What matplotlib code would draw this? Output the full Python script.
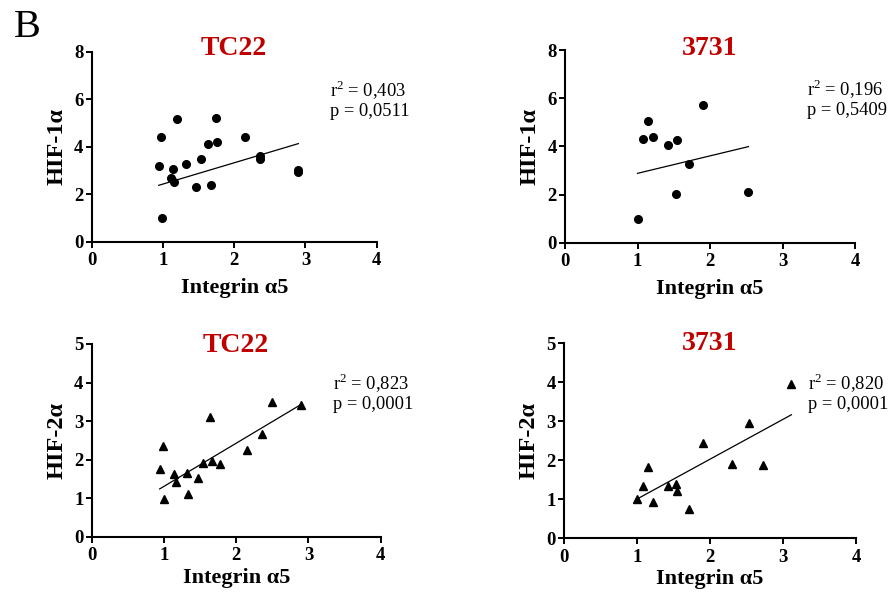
import numpy as np
import matplotlib
matplotlib.use("Agg")
import matplotlib.pyplot as plt

plt.rcParams["font.family"] = ["Liberation Serif", "DejaVu Serif"]
plt.rcParams["mathtext.fontset"] = "custom"
plt.rcParams["mathtext.rm"] = "Liberation Serif"

# HIF-1a vs integrin a5 (circles)
tc22_hif1_x = [0.94, 0.97, 0.99, 1.11, 1.14, 1.16, 1.19, 1.33, 1.47, 1.54, 1.63, 1.67,
               1.75, 1.76, 2.15, 2.36, 2.36, 2.90, 2.90]
tc22_hif1_y = [3.20, 4.42, 1.01, 2.67, 3.07, 2.50, 5.15, 3.28, 2.32, 3.49, 4.10, 2.37,
               5.19, 4.20, 4.39, 3.62, 3.48, 3.03, 2.93]
c3731_hif1_x = [1.00, 1.08, 1.15, 1.21, 1.42, 1.53, 1.55, 1.71, 1.90, 2.53]
c3731_hif1_y = [0.98, 4.32, 5.05, 4.37, 4.07, 2.03, 4.26, 3.28, 5.72, 2.10]

# HIF-2a vs integrin a5 (triangles)
tc22_hif2_x = [0.94, 0.98, 1.00, 1.14, 1.17, 1.32, 1.33, 1.47, 1.54, 1.64, 1.67, 1.77,
               2.15, 2.36, 2.49, 2.90]
tc22_hif2_y = [1.75, 2.35, 0.99, 1.63, 1.42, 1.66, 1.11, 1.52, 1.92, 3.11, 1.96, 1.88,
               2.24, 2.66, 3.49, 3.41]
c3731_hif2_x = [1.00, 1.08, 1.155, 1.215, 1.425, 1.534, 1.553, 1.717, 1.90, 2.30, 2.53,
                2.726, 3.114]
c3731_hif2_y = [1.00, 1.34, 1.84, 0.94, 1.34, 1.39, 1.21, 0.74, 2.44, 1.91, 2.96, 1.89,
                3.97]

# linear fits (slope, intercept)
fit_slopes = [0.896, 0.725, 1.12, 1.023]
fit_intercepts = [1.531, 2.155, 0.186, -0.015]

stats_text = ["r$^2$ = 0,403\np = 0,0511", "r$^2$ = 0,196\np = 0,5409",
              "r$^2$ = 0,823\np = 0,0001", "r$^2$ = 0,820\np = 0,0001"]
titles = ["TC22", "3731", "TC22", "3731"]
ylabels = ["HIF-1α", "HIF-1α", "HIF-2α", "HIF-2α"]
ymax = [8, 8, 5, 5]
ysteps = [2, 2, 1, 1]

xs = [tc22_hif1_x, c3731_hif1_x, tc22_hif2_x, c3731_hif2_x]
ys = [tc22_hif1_y, c3731_hif1_y, tc22_hif2_y, c3731_hif2_y]
markers = ["o", "o", "^", "^"]
msizes = [5.5, 5.5, 6, 6]
title_y = [0.983, 0.974, 0.958, 0.966]
xlabel_y = [-0.19, -0.19, -0.165, -0.16]

rects = [
    [0.1026, 0.5931, 0.3188, 0.3199],
    [0.632, 0.5914, 0.3244, 0.3244],
    [0.1026, 0.0965, 0.3233, 0.3244],
    [0.631, 0.0938, 0.3266, 0.328],
]

fig = plt.figure(figsize=(8.94, 5.94), dpi=100)
fig.text(0.015, 0.938, "B", fontsize=29, va="baseline", ha="left")

for i in range(4):
    ax = fig.add_axes(rects[i])
    x = np.array(xs[i])
    y = np.array(ys[i])
    ax.plot(x, y, linestyle="none", marker=markers[i], markersize=msizes[i],
            color="black", clip_on=False, zorder=3)
    lx = np.array([x.min(), x.max()])
    ax.plot(lx, fit_slopes[i] * lx + fit_intercepts[i], color="black", lw=0.9)

    ax.set_xlim(0, 4)
    ax.set_ylim(0, ymax[i])
    ax.set_xticks(range(0, 5))
    ax.set_yticks(np.arange(0, ymax[i] + 0.1, ysteps[i]))
    for side in ["top", "right"]:
        ax.spines[side].set_visible(False)
    for side in ["left", "bottom"]:
        ax.spines[side].set_linewidth(1.5)
    ax.tick_params(direction="out", length=4.5, width=1.4, labelsize=13.5)
    ax.tick_params(axis="x", pad=3)
    ax.tick_params(axis="y", pad=1.5)
    for lab in ax.get_xticklabels() + ax.get_yticklabels():
        lab.set_fontweight("bold")

    ax.set_xlabel("Integrin α5", fontsize=16, fontweight="bold")
    ax.xaxis.set_label_coords(0.5, xlabel_y[i])
    ax.set_ylabel(ylabels[i], fontsize=17.5, fontweight="bold")
    ax.yaxis.set_label_coords(-0.085, 0.5)

    ax.text(0.5, title_y[i], titles[i], transform=ax.transAxes, ha="center",
            va="baseline", fontsize=20, fontweight="bold", color="#c00000")
    ax.text(0.835, 0.75, stats_text[i], transform=ax.transAxes, ha="left",
            va="center", fontsize=13.3, linespacing=1.1)

fig.savefig("out.png", dpi=100)
